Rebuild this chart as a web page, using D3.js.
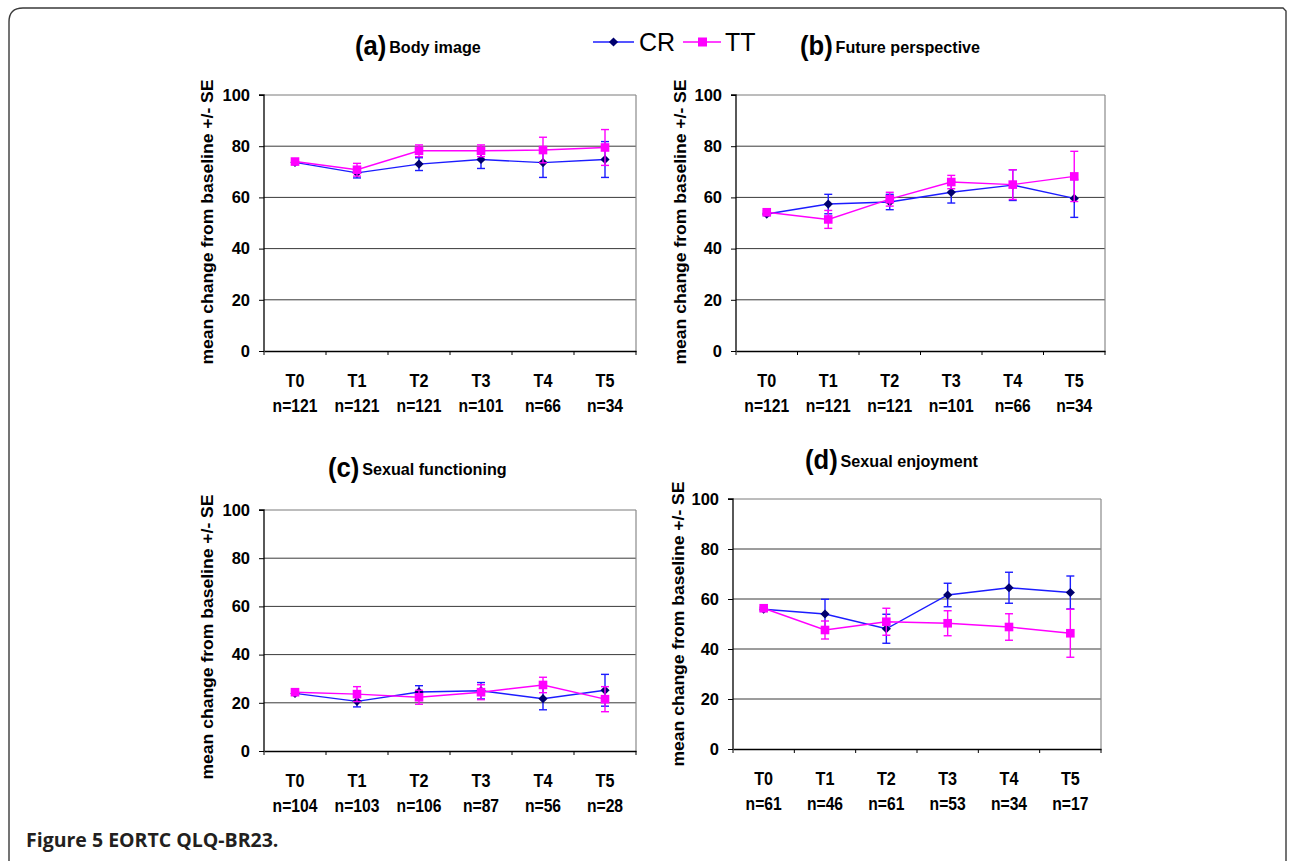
<!DOCTYPE html>
<html><head><meta charset="utf-8">
<script src="https://cdn.jsdelivr.net/npm/d3@7"></script>
<style>body{margin:0;background:#fff}svg{display:block}</style>
</head><body>
<svg id="chart" width="1290" height="861"></svg>
<script>
// ---- data ----
const timepoints = ["T0", "T1", "T2", "T3", "T4", "T5"];
const yTicks = [0, 20, 40, 60, 80, 100];
const seriesNames = ["CR", "TT"];

const nBody = ["n=121", "n=121", "n=121", "n=101", "n=66", "n=34"];
const nFuture = ["n=121", "n=121", "n=121", "n=101", "n=66", "n=34"];
const nSexFunc = ["n=104", "n=103", "n=106", "n=87", "n=56", "n=28"];
const nSexEnj = ["n=61", "n=46", "n=61", "n=53", "n=34", "n=17"];

const bodyCR = [73.7, 69.6, 73.0, 74.8, 73.6, 74.8];
const bodyCRse = [0.6, 2.0, 2.5, 3.5, 5.8, 7.0];
const bodyTT = [74.0, 70.8, 78.2, 78.2, 78.5, 79.5];
const bodyTTse = [0.6, 2.5, 2.3, 2.3, 5.0, 7.0];

const futureCR = [53.5, 57.4, 58.2, 62.0, 64.8, 59.6];
const futureCRse = [0.6, 3.8, 3.0, 4.2, 6.0, 7.4];
const futureTT = [54.2, 51.4, 59.3, 66.0, 65.0, 68.2];
const futureTTse = [0.6, 3.5, 2.7, 2.6, 5.8, 9.8];

const sexFuncCR = [23.9, 20.6, 24.5, 25.0, 21.7, 25.2];
const sexFuncCRse = [0.6, 2.3, 2.6, 3.4, 4.6, 6.6];
const sexFuncTT = [24.4, 23.6, 22.3, 24.4, 27.4, 21.5];
const sexFuncTTse = [0.6, 3.1, 2.9, 3.1, 3.2, 5.2];

const sexEnjCR = [55.9, 54.0, 48.1, 61.6, 64.5, 62.6];
const sexEnjCRse = [0.6, 5.9, 5.8, 4.7, 6.2, 6.6];
const sexEnjTT = [56.3, 47.6, 50.9, 50.3, 48.8, 46.3];
const sexEnjTTse = [0.6, 3.6, 5.4, 5.0, 5.3, 9.6];

const titleLetters = ["(a)", "(b)", "(c)", "(d)"];
const titleTexts = ["Body image", "Future perspective", "Sexual functioning", "Sexual enjoyment"];
const yLabel = "mean change from baseline +/- SE";
const captionBold = "Figure 5";
const captionRest = " EORTC QLQ-BR23.";

// ---- layout ----
const panels = [
  {letter: titleLetters[0], title: titleTexts[0], n: nBody, cr: bodyCR, crse: bodyCRse, tt: bodyTT, ttse: bodyTTse,
   x0: 264, x1: 636, yTop: 95, yBot: 351, titleX: 355, titleY: 55, ylabX: 207, ylabY: 222},
  {letter: titleLetters[1], title: titleTexts[1], n: nFuture, cr: futureCR, crse: futureCRse, tt: futureTT, ttse: futureTTse,
   x0: 736, x1: 1105, yTop: 95, yBot: 351, titleX: 800, titleY: 55, ylabX: 680, ylabY: 222},
  {letter: titleLetters[2], title: titleTexts[2], n: nSexFunc, cr: sexFuncCR, crse: sexFuncCRse, tt: sexFuncTT, ttse: sexFuncTTse,
   x0: 264, x1: 636, yTop: 510, yBot: 751, titleX: 328, titleY: 477, ylabX: 207, ylabY: 637},
  {letter: titleLetters[3], title: titleTexts[3], n: nSexEnj, cr: sexEnjCR, crse: sexEnjCRse, tt: sexEnjTT, ttse: sexEnjTTse,
   x0: 733, x1: 1101, yTop: 499, yBot: 749, titleX: 805, titleY: 469, ylabX: 678, ylabY: 624}
];

const FONT = "'Liberation Sans',Arial,sans-serif";
const crLine = "#1c1cff", crMark = "#00006e", ttCol = "#ff00ff";

const svg = d3.select("#chart");

// outer frame
svg.append("path")
  .attr("d", "M9,900 L9,22 Q9,8 23,8 L1283,8 L1286,11 L1286,900")
  .attr("fill", "none").attr("stroke", "#3a3a3a").attr("stroke-width", 1.4);

function diamond(g, x, y, r, fill) {
  g.append("path").attr("d", `M${x},${y - r}L${x + r},${y}L${x},${y + r}L${x - r},${y}Z`).attr("fill", fill);
}

panels.forEach(p => {
  const g = svg.append("g");
  const x = d3.scaleBand().domain(timepoints).range([p.x0, p.x1]).padding(0);
  const y = d3.scaleLinear().domain([0, 100]).range([p.yBot, p.yTop]);
  const cx = t => x(t) + x.bandwidth() / 2;

  // gridlines
  g.selectAll(".grid").data(yTicks.filter(v => v > 0 && v < 100)).join("line")
    .attr("x1", p.x0).attr("x2", p.x1).attr("y1", d => y(d)).attr("y2", d => y(d))
    .attr("stroke", "#3a3a3a").attr("stroke-width", 1);
  g.append("line").attr("x1", p.x0).attr("x2", p.x1).attr("y1", y(100)).attr("y2", y(100))
    .attr("stroke", "#7a7a7a").attr("stroke-width", 1);
  g.append("line").attr("x1", p.x1).attr("x2", p.x1).attr("y1", y(100)).attr("y2", y(0))
    .attr("stroke", "#8a8a8a").attr("stroke-width", 1.2);

  // y axis
  const ya = g.append("g").attr("transform", `translate(${p.x0},0)`)
    .call(d3.axisLeft(y).tickValues(yTicks).tickSize(5).tickPadding(9));
  ya.select(".domain").attr("stroke", "#000").attr("stroke-width", 1.3).attr("d", `M-5,${y(100)}H0V${y(0)}`);
  ya.selectAll(".tick line").attr("stroke", "#000");
  ya.selectAll(".tick text").attr("font-family", FONT).attr("font-weight", "bold").attr("font-size", 16.5).attr("fill", "#000");

  // x axis
  const xa = g.append("g").attr("transform", `translate(0,${p.yBot})`)
    .call(d3.axisBottom(x).tickSize(0).tickFormat(""));
  xa.select(".domain").attr("stroke", "#000").attr("stroke-width", 1.3);
  xa.selectAll(".tick").remove();
  const bounds = timepoints.map(t => x(t)).concat([p.x1]);
  g.selectAll(".xt").data(bounds).join("line")
    .attr("x1", d => d).attr("x2", d => d).attr("y1", p.yBot).attr("y2", p.yBot + 4)
    .attr("stroke", "#000").attr("stroke-width", 1);
  g.selectAll(".xl1").data(timepoints).join("text")
    .attr("transform", d => `translate(${cx(d)},${p.yBot + 36}) scale(0.9,1)`).attr("text-anchor", "middle")
    .attr("font-family", FONT).attr("font-weight", "bold").attr("font-size", 18).text(d => d);
  g.selectAll(".xl2").data(timepoints).join("text")
    .attr("transform", d => `translate(${cx(d)},${p.yBot + 61}) scale(0.87,1)`).attr("text-anchor", "middle")
    .attr("font-family", FONT).attr("font-weight", "bold").attr("font-size", 18).text((d, i) => p.n[i]);

  // y label
  g.append("text").attr("transform", `translate(${p.ylabX},${p.ylabY}) rotate(-90)`)
    .attr("text-anchor", "middle").attr("dy", "0.35em")
    .attr("font-family", FONT).attr("font-weight", "bold").attr("font-size", 16.5)
    .attr("textLength", 285).attr("lengthAdjust", "spacingAndGlyphs").text(yLabel);

  // title
  const tt = g.append("text").attr("transform", `translate(${p.titleX},${p.titleY}) scale(0.95,1)`)
    .attr("font-family", FONT).attr("font-weight", "bold");
  tt.append("tspan").attr("font-size", 27).text(p.letter);
  tt.append("tspan").attr("font-size", 17).attr("dx", 3).attr("dy", -2).text(p.title);

  // series
  const drawSeries = (vals, se, lineCol, errCol, markCol, shape) => {
    const line = d3.line().x((d, i) => cx(timepoints[i])).y(d => y(d));
    g.append("path").datum(vals).attr("d", line).attr("fill", "none").attr("stroke", lineCol).attr("stroke-width", 1.4);
    vals.forEach((v, i) => {
      const xx = cx(timepoints[i]);
      const hi = y(v + se[i]), lo = y(v - se[i]);
      g.append("line").attr("x1", xx).attr("x2", xx).attr("y1", hi).attr("y2", lo).attr("stroke", errCol).attr("stroke-width", 1.4);
      [hi, lo].forEach(yy => g.append("line").attr("x1", xx - 4).attr("x2", xx + 4).attr("y1", yy).attr("y2", yy)
        .attr("stroke", errCol).attr("stroke-width", 1.4));
    });
    vals.forEach((v, i) => {
      const xx = cx(timepoints[i]);
      if (shape === "diamond") diamond(g, xx, y(v), 4.6, markCol);
      else g.append("rect").attr("x", xx - 4.3).attr("y", y(v) - 4.3).attr("width", 8.6).attr("height", 8.6).attr("fill", markCol);
    });
  };
  drawSeries(p.cr, p.crse, crLine, crLine, crMark, "diamond");
  drawSeries(p.tt, p.ttse, ttCol, ttCol, ttCol, "square");
});

// legend
const lg = svg.append("g");
lg.append("line").attr("x1", 593).attr("x2", 634).attr("y1", 42).attr("y2", 42).attr("stroke", crLine).attr("stroke-width", 1.4);
diamond(lg, 613.5, 42, 4.6, crMark);
lg.append("text").attr("x", 639).attr("y", 51).attr("font-family", FONT).attr("font-size", 25).text(seriesNames[0]);
lg.append("line").attr("x1", 683).attr("x2", 721).attr("y1", 42).attr("y2", 42).attr("stroke", ttCol).attr("stroke-width", 1.4);
lg.append("rect").attr("x", 698).attr("y", 37.5).attr("width", 9).attr("height", 9).attr("fill", ttCol);
lg.append("text").attr("x", 725).attr("y", 51).attr("font-family", FONT).attr("font-size", 25).text(seriesNames[1]);

// caption
const cap = svg.append("text").attr("x", 26).attr("y", 847).attr("font-family", "'Open Sans',sans-serif").attr("font-size", 19.5).attr("fill", "#231f20");
cap.append("tspan").attr("font-weight", "bold").text(captionBold);
cap.append("tspan").attr("font-weight", "bold").text(captionRest);
</script>
</body></html>
